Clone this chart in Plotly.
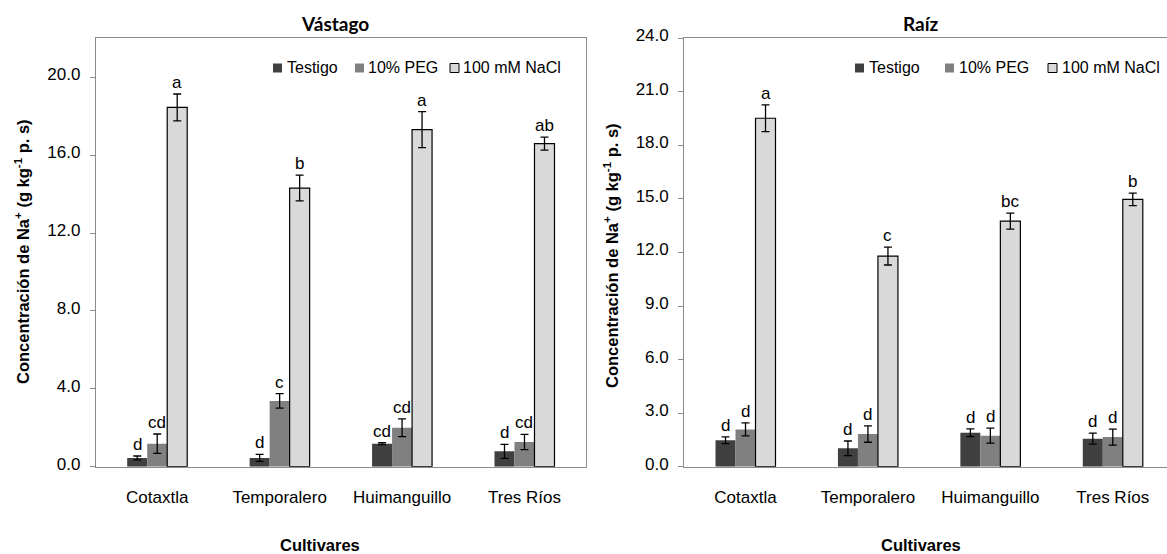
import plotly.graph_objects as go

# Cultivars and treatments
cultivares = ["Cotaxtla", "Temporalero", "Huimanguillo", "Tres Ríos"]
tratamientos = ["Testigo", "10% PEG", "100 mM NaCl"]
colores = ["#404040", "#808080", "#d9d9d9"]

# Shoot (Vástago) Na+ concentration, g kg-1 dry weight
vast_testigo = [0.45, 0.45, 1.18, 0.79]
vast_peg = [1.18, 3.38, 2.00, 1.27]
vast_nacl = [18.45, 14.31, 17.31, 16.59]
vast_testigo_err = [0.10, 0.18, 0.05, 0.36]
vast_peg_err = [0.50, 0.37, 0.46, 0.39]
vast_nacl_err = [0.69, 0.66, 0.92, 0.33]
vast_testigo_let = ["d", "d", "cd", "d"]
vast_peg_let = ["cd", "c", "cd", "cd"]
vast_nacl_let = ["a", "b", "a", "ab"]

# Root (Raíz) Na+ concentration, g kg-1 dry weight
raiz_testigo = [1.48, 1.03, 1.90, 1.57]
raiz_peg = [2.09, 1.83, 1.74, 1.66]
raiz_nacl = [19.52, 11.80, 13.76, 14.98]
raiz_testigo_err = [0.19, 0.41, 0.22, 0.31]
raiz_peg_err = [0.36, 0.46, 0.42, 0.45]
raiz_nacl_err = [0.75, 0.50, 0.45, 0.35]
raiz_testigo_let = ["d", "d", "d", "d"]
raiz_peg_let = ["d", "d", "d", "d"]
raiz_nacl_let = ["a", "c", "bc", "b"]

W, H = 1167, 554
SANS = "Liberation Sans, Arial, sans-serif"
TITLE_FONT = "Lato, Open Sans, sans-serif"
AXIS_GRAY = "#8c8c8c"

# Panel geometry (pixels)
lx0, lx1 = 96, 585.7
rx0 = 684.3
py0, py1 = 38.3, 466.7
cat_px = (lx1 - lx0) / 4.0
right_span = (W - rx0) / cat_px
bar_px = 20
offsets = [-bar_px, 0, bar_px]


def px(x):
    return x / W


def py(y):
    return 1 - y / H


panels = [
    dict(xa="x", ya="y",
         vals=[vast_testigo, vast_peg, vast_nacl],
         errs=[vast_testigo_err, vast_peg_err, vast_nacl_err],
         lets=[vast_testigo_let, vast_peg_let, vast_nacl_let],
         # legend: (swatch left, text left) per treatment
         legend=[(273, 285), (355, 366), (450, 461)]),
    dict(xa="x2", ya="y2",
         vals=[raiz_testigo, raiz_peg, raiz_nacl],
         errs=[raiz_testigo_err, raiz_peg_err, raiz_nacl_err],
         lets=[raiz_testigo_let, raiz_peg_let, raiz_nacl_let],
         legend=[(855, 867), (945, 957), (1048, 1060)]),
]

fig = go.Figure()
annotations = []
shapes = []

for p in panels:
    for k, name in enumerate(tratamientos):
        line = dict(color="black", width=1.2) if k == 2 else dict(width=0)
        fig.add_trace(go.Bar(
            x=cultivares, y=p["vals"][k], name=name,
            xaxis=p["xa"], yaxis=p["ya"], showlegend=False,
            marker=dict(color=colores[k], line=line),
            error_y=dict(type="data", array=p["errs"][k], color="black",
                         thickness=1.3, width=4),
        ))
        # significance letters above each error bar
        for c, v, e, t in zip(cultivares, p["vals"][k], p["errs"][k], p["lets"][k]):
            annotations.append(dict(
                x=c, y=v + e, xref=p["xa"], yref=p["ya"], text=t,
                showarrow=False, yanchor="bottom", xanchor="center",
                xshift=offsets[k], yshift=0,
                font=dict(family=SANS, size=17, color="black"),
            ))
        # legend entry: swatch + label
        sx, tx = p["legend"][k]
        ly = 68
        shapes.append(dict(
            type="rect", xref="paper", yref="paper",
            x0=px(sx), x1=px(sx + 9), y0=py(ly + 4.5), y1=py(ly - 4.5),
            fillcolor=colores[k],
            line=dict(color="black" if k == 2 else colores[k], width=1 if k == 2 else 0),
        ))
        annotations.append(dict(
            text=name, x=px(tx), y=py(ly), xref="paper", yref="paper",
            xanchor="left", yanchor="middle", showarrow=False,
            font=dict(family=SANS, size=16, color="black"),
        ))

ydom = [py(py1), py(py0)]

common_x = dict(showline=True, linecolor=AXIS_GRAY, linewidth=1.3, ticks="",
                showgrid=False, zeroline=False, automargin=False,
                ticklabelstandoff=15,
                tickfont=dict(family=SANS, size=17, color="black"))
common_y = dict(showline=True, linecolor=AXIS_GRAY, linewidth=1.3, ticks="outside",
                ticklen=5, tickcolor=AXIS_GRAY, tickformat=".1f",
                showgrid=False, zeroline=False, automargin=False,
                ticklabelstandoff=6, ticklabelshift=-3,
                tickfont=dict(family=SANS, size=17, color="black"))

fig.update_layout(
    width=W, height=H,
    margin=dict(l=0, r=0, t=0, b=0, autoexpand=False),
    paper_bgcolor="white", plot_bgcolor="white",
    barmode="group", bargap=1 - 3 * bar_px / cat_px, bargroupgap=0,
    showlegend=False,
    xaxis=dict(domain=[px(lx0), px(lx1)], range=[-0.5, 3.5], anchor="y",
               mirror=True, **common_x),
    yaxis=dict(domain=ydom, range=[0, 22], dtick=4, tick0=0, anchor="x",
               mirror=True, **common_y),
    xaxis2=dict(domain=[px(rx0), 1.0], range=[-0.5, -0.5 + right_span], anchor="y2",
                mirror=True, **common_x),
    yaxis2=dict(domain=ydom, range=[0, 24], dtick=3, tick0=0, anchor="x2",
                **common_y),
)

ytitle = "<b>Concentración de Na<sup>+</sup> (g kg<sup>-1</sup> p. s)</b>"


def label(text, x, y, size, family=SANS, angle=0):
    return dict(text=text, x=px(x), y=py(y), xref="paper", yref="paper",
                xanchor="center", yanchor="middle", textangle=angle,
                showarrow=False, font=dict(family=family, size=size, color="black"))


annotations += [
    label("<b>Vástago</b>", 335, 23, 19, TITLE_FONT),
    label("<b>Raíz</b>", 921, 23, 19, TITLE_FONT),
    label("<b>Cultivares</b>", 320, 545, 16.5),
    label("<b>Cultivares</b>", 921, 545, 16.5),
    label(ytitle, 22, 252, 16.5, angle=-90),
    label(ytitle, 611, 256, 16.5, angle=-90),
]
fig.update_layout(annotations=annotations, shapes=shapes)

fig.write_html("out.html")
